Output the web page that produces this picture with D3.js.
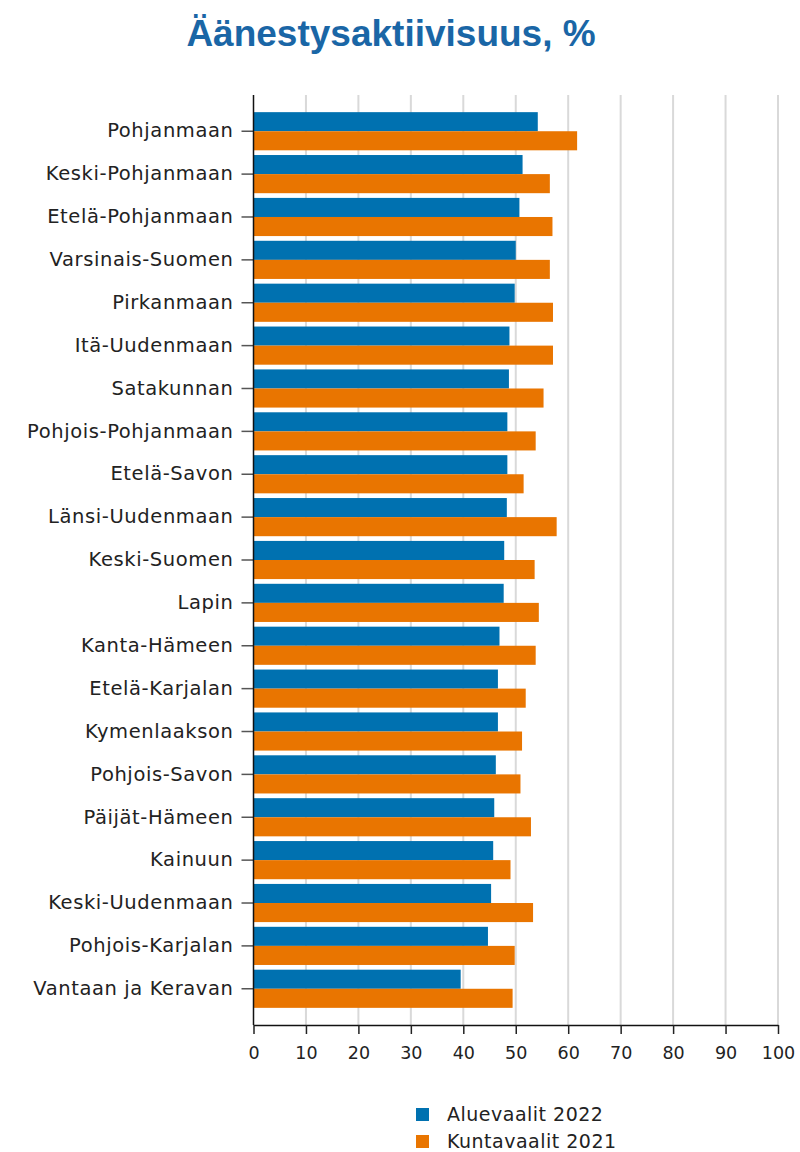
<!DOCTYPE html>
<html>
<head>
<meta charset="utf-8">
<script src="https://cdn.jsdelivr.net/npm/d3@7"></script>
<style>
  body { margin: 0; background: #fff; }
  svg { display: block; }
</style>
</head>
<body>
<div id="chart"></div>
<script>
const WIDTH = 800;
const HEIGHT = 1152;

const regions = [
  'Pohjanmaan', 'Keski-Pohjanmaan', 'Etelä-Pohjanmaan', 'Varsinais-Suomen',
  'Pirkanmaan', 'Itä-Uudenmaan', 'Satakunnan', 'Pohjois-Pohjanmaan',
  'Etelä-Savon', 'Länsi-Uudenmaan', 'Keski-Suomen', 'Lapin', 'Kanta-Hämeen',
  'Etelä-Karjalan', 'Kymenlaakson', 'Pohjois-Savon', 'Päijät-Hämeen',
  'Kainuun', 'Keski-Uudenmaan', 'Pohjois-Karjalan', 'Vantaan ja Keravan'
];
const aluevaalit2022 = [
  54.2, 51.3, 50.7, 50.0, 49.8, 48.8, 48.7, 48.4, 48.4, 48.3, 47.8,
  47.7, 46.9, 46.6, 46.6, 46.2, 45.9, 45.7, 45.3, 44.7, 39.5
];
const kuntavaalit2021 = [
  61.7, 56.5, 57.0, 56.5, 57.1, 57.1, 55.3, 53.8, 51.5, 57.8, 53.6,
  54.4, 53.8, 51.9, 51.2, 50.9, 52.9, 49.0, 53.3, 49.8, 49.4
];
const seriesNames = ['Aluevaalit 2022', 'Kuntavaalit 2021'];
const seriesColors = ['#0071b0', '#e97500'];
const xTicks = [0, 10, 20, 30, 40, 50, 60, 70, 80, 90, 100];

const plot = { left: 253.5, right: 778, top: 95, bottom: 1025 };
const labelFont = '"DejaVu Sans", Verdana, sans-serif';

const svg = d3.select('#chart')
  .append('svg')
  .attr('width', WIDTH)
  .attr('height', HEIGHT);

svg.append('text')
  .attr('x', 391)
  .attr('y', 46)
  .attr('text-anchor', 'middle')
  .attr('font-family', '"Liberation Sans", Arial, sans-serif')
  .attr('font-weight', 'bold')
  .attr('font-size', 37)
  .attr('fill', '#1a66a6')
  .text('Äänestysaktiivisuus, %');

const x = d3.scaleLinear().domain([0, 100]).range([plot.left, plot.right]);
const y = d3.scaleBand()
  .domain(regions)
  .range([plot.top, plot.bottom])
  .paddingInner(0.11)
  .paddingOuter(0.4);
const ySub = d3.scaleBand()
  .domain([0, 1])
  .range([0, y.bandwidth()]);

// grid lines
svg.append('g')
  .selectAll('line')
  .data(xTicks.filter(d => d > 0))
  .join('line')
  .attr('x1', d => x(d))
  .attr('x2', d => x(d))
  .attr('y1', plot.top)
  .attr('y2', plot.bottom)
  .attr('stroke', '#d9d9d9')
  .attr('stroke-width', 2);

// bars
const rows = regions.map((name, i) => ({ name, values: [aluevaalit2022[i], kuntavaalit2021[i]] }));

const groups = svg.append('g')
  .selectAll('g')
  .data(rows)
  .join('g')
  .attr('transform', d => `translate(0, ${y(d.name)})`);

groups.selectAll('rect')
  .data(d => d.values.map((v, k) => ({ v, k })))
  .join('rect')
  .attr('x', x(0))
  .attr('y', d => ySub(d.k))
  .attr('width', d => x(d.v) - x(0))
  .attr('height', ySub.bandwidth())
  .attr('fill', d => seriesColors[d.k]);

// y axis
const yAxis = svg.append('g')
  .attr('transform', `translate(${plot.left}, 0)`)
  .call(d3.axisLeft(y).tickSize(12).tickPadding(8));
yAxis.select('.domain').remove();
yAxis.selectAll('.tick line').attr('stroke', '#555').attr('stroke-width', 1.5);
yAxis.selectAll('.tick text')
  .attr('font-family', labelFont)
  .attr('font-size', 19.5)
  .attr('letter-spacing', 0.6)
  .attr('fill', '#222');

svg.append('line')
  .attr('x1', plot.left)
  .attr('x2', plot.left)
  .attr('y1', plot.top)
  .attr('y2', plot.bottom)
  .attr('stroke', '#111')
  .attr('stroke-width', 1.5);

// x axis
const xAxis = svg.append('g')
  .attr('transform', `translate(0, ${plot.bottom})`)
  .call(d3.axisBottom(x).tickValues(xTicks).tickSize(9).tickPadding(13).tickSizeOuter(0));
xAxis.select('.domain').attr('stroke', '#111').attr('stroke-width', 1.5);
xAxis.selectAll('.tick line').attr('stroke', '#222').attr('stroke-width', 1.5);
xAxis.selectAll('.tick text')
  .attr('font-family', labelFont)
  .attr('font-size', 17.5)
  .attr('fill', '#222');

// legend
const legend = svg.append('g')
  .attr('transform', 'translate(416, 1108)')
  .selectAll('g')
  .data(seriesNames)
  .join('g')
  .attr('transform', (d, i) => `translate(0, ${i * 27})`);

legend.append('rect')
  .attr('width', 13)
  .attr('height', 13)
  .attr('fill', (d, i) => seriesColors[i]);

legend.append('text')
  .attr('x', 31)
  .attr('y', 13)
  .attr('font-family', labelFont)
  .attr('font-size', 19)
  .attr('letter-spacing', 0.5)
  .attr('fill', '#222')
  .text(d => d);
</script>
</body>
</html>
